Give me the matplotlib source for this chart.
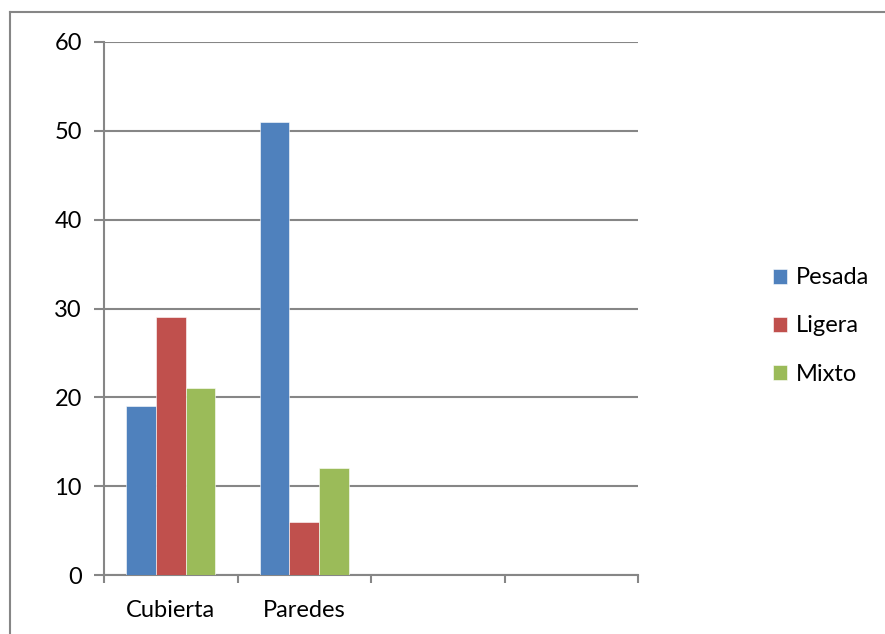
import numpy as np
import matplotlib
matplotlib.use('Agg')
from matplotlib import pyplot as plt
from matplotlib.lines import Line2D

matplotlib.rcParams['font.family'] = ['Lato', 'DejaVu Sans']

# datos
categorias = ['Cubierta', 'Paredes', '', '']
series = ['Pesada', 'Ligera', 'Mixto']
pesada = [19, 51]
ligera = [29, 6]
mixto = [21, 12]
colores = ['#4F81BD', '#C0504D', '#9BBB59']
gris = '#868686'

W, H = 885, 634
fig = plt.figure(figsize=(W / 100, H / 100), dpi=100)
ax = fig.add_axes([104 / W, 59 / H, 534 / W, 533 / H])

# borde del area del grafico (solo arriba e izquierda visibles)
fig.add_artist(Line2D([10 / W, 1], [1 - 12 / H, 1 - 12 / H], transform=fig.transFigure, color=gris, lw=1.5))
fig.add_artist(Line2D([10 / W, 10 / W], [0, 1 - 12 / H], transform=fig.transFigure, color=gris, lw=1.5))

# barras, gap width 150% como en Excel
n_cat = len(categorias)
ancho = 1 / 4.5
x = np.arange(len(pesada))
for i, (nombre, vals) in enumerate(zip(series, [pesada, ligera, mixto])):
    ax.bar(x + 0.5 + (i - 1) * ancho, vals, width=ancho, color=colores[i],
           edgecolor='white', linewidth=0.4, label=nombre, zorder=3)

ax.set_xlim(0, n_cat)
ax.set_ylim(0, 60)
ax.set_yticks(range(0, 61, 10))
ax.yaxis.grid(True, color=gris, lw=1.5, zorder=0)

# ticks del eje x en los limites de categoria, etiquetas al centro
ax.set_xticks(range(0, n_cat + 1))
ax.set_xticklabels([])
ax.set_xticks(np.arange(n_cat) + 0.5, minor=True)
ax.set_xticklabels(categorias, minor=True, fontsize=17)
ax.tick_params(axis='x', which='major', length=6, width=1.5, color=gris, direction='out')
ax.tick_params(axis='x', which='minor', length=0, pad=18)
ax.tick_params(axis='y', length=7, width=1.5, color=gris, labelsize=17, pad=9)

for s in ['top', 'right']:
    ax.spines[s].set_visible(False)
for s in ['left', 'bottom']:
    ax.spines[s].set_color(gris)
    ax.spines[s].set_linewidth(1.5)

fig.legend(loc='center left', bbox_to_anchor=(773 / W, 1 - 326 / H), frameon=False,
           fontsize=17, handlelength=0.6, handleheight=0.6, handletextpad=0.35,
           labelspacing=1.15, borderpad=0, borderaxespad=0)

plt.savefig('out.png', dpi=100)
plt.close()
